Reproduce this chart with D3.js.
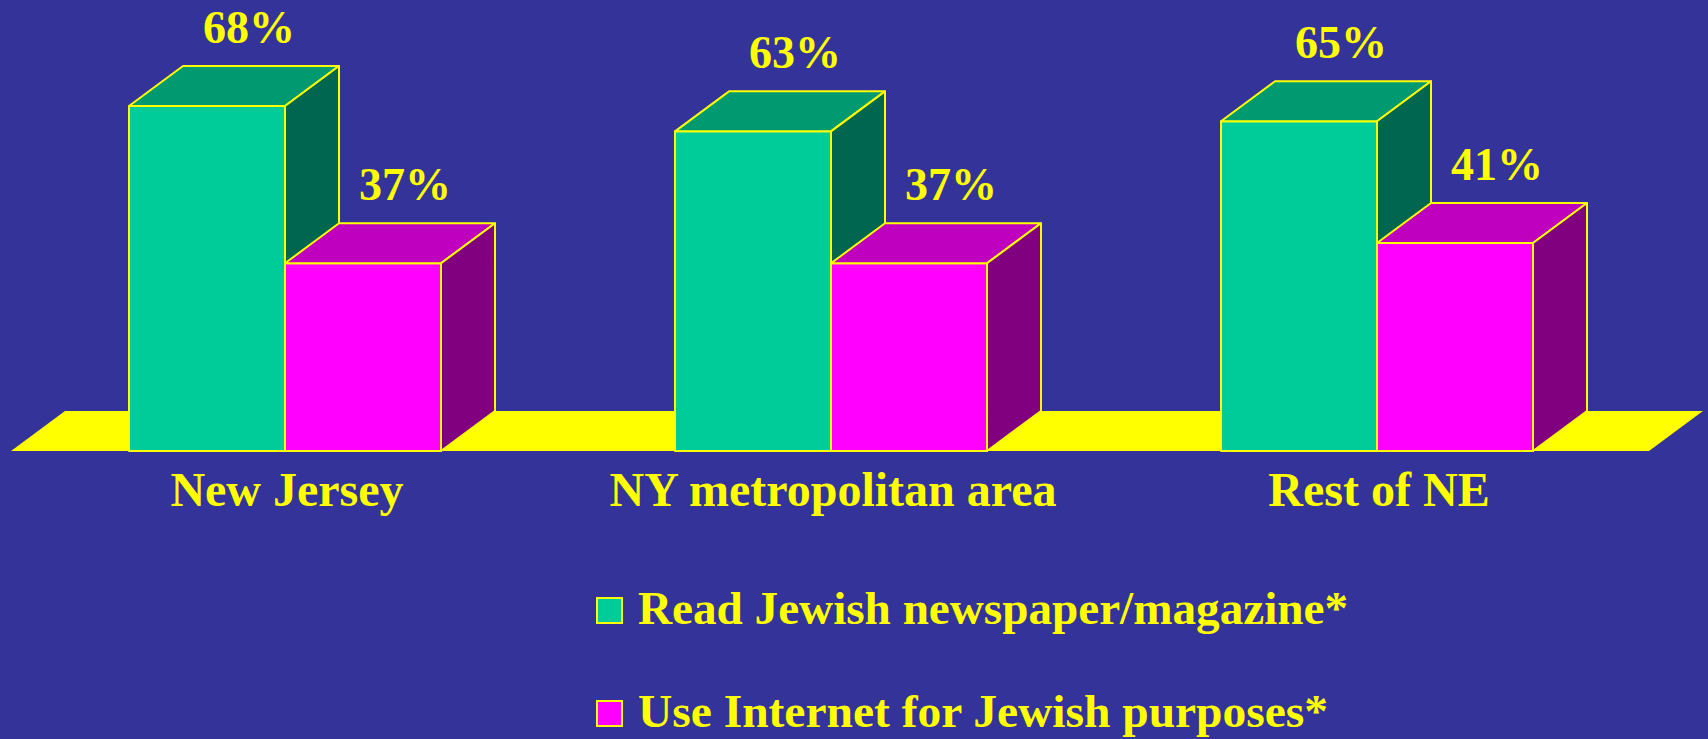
<!DOCTYPE html>
<html>
<head>
<meta charset="utf-8">
<script src="https://cdn.jsdelivr.net/npm/d3@7"></script>
<style>
  body { margin: 0; background: #333399; }
  svg { display: block; }
</style>
</head>
<body>
<div id="chart"></div>
<script>
var categories = ["New Jersey", "NY metropolitan area", "Rest of NE"];
var series = ["Read Jewish newspaper/magazine*", "Use Internet for Jewish purposes*"];
var newspaper = [68, 63, 65];
var internet = [37, 37, 41];

var w = 1708,
    h = 739,
    base = 451,
    depthX = 54,
    depthY = 40;

var faces = [
    { front: "#00cc99", top: "#009970", side: "#006650" },
    { front: "#ff00ff", top: "#bf00bf", side: "#800080" }
];

var svg = d3.select("#chart")
    .append("svg")
    .attr("width", w)
    .attr("height", h)
    .style("background", "#333399");

// group positions
var x0 = d3.scaleBand()
    .domain(categories)
    .range([129, 1533])
    .paddingInner(0.4286)
    .paddingOuter(0);

var x1 = d3.scaleBand()
    .domain(series)
    .range([0, x0.bandwidth()]);

var y = d3.scaleLinear()
    .domain([0, 100])
    .range([base, base - 507.4]);

// the yellow floor
var fl = x0.range()[0] - 118,
    fr = x0.range()[1] + 116;
svg.append("path")
    .attr("d", "M" + fl + "," + base +
        "L" + (fl + depthX) + "," + (base - depthY) +
        "L" + (fr + depthX) + "," + (base - depthY) +
        "L" + fr + "," + base + "Z")
    .style("fill", "#ffff00");

var rows = [];
categories.forEach(function (c, i) {
    rows.push({ cat: c, s: 0, v: newspaper[i] });
    rows.push({ cat: c, s: 1, v: internet[i] });
});

var bw = x1.bandwidth();

var bars = svg.selectAll("g.bar")
    .data(rows)
    .enter()
    .append("g")
    .attr("class", "bar");

bars.each(function (d) {
    var g = d3.select(this);
    var xl = x0(d.cat) + x1(series[d.s]),
        xr = xl + bw,
        yt = y(d.v);

    // front
    g.append("rect")
        .attr("x", xl)
        .attr("y", yt)
        .attr("width", bw)
        .attr("height", base - yt)
        .style("fill", faces[d.s].front);

    // top
    g.append("path")
        .attr("d", "M" + xl + "," + yt + "L" + (xl + depthX) + "," + (yt - depthY) +
            "L" + (xr + depthX) + "," + (yt - depthY) + "L" + xr + "," + yt + "Z")
        .style("fill", faces[d.s].top);

    // side
    g.append("path")
        .attr("d", "M" + xr + "," + yt + "L" + (xr + depthX) + "," + (yt - depthY) +
            "L" + (xr + depthX) + "," + (base - depthY) + "L" + xr + "," + base + "Z")
        .style("fill", faces[d.s].side);

    g.selectAll("rect, path")
        .style("stroke", "#ffff00")
        .style("stroke-width", 2)
        .style("stroke-linejoin", "round");

    // value label
    g.append("text")
        .attr("x", xl + bw / 2 + 42)
        .attr("y", yt - depthY - 23)
        .attr("text-anchor", "middle")
        .style("font-family", "'Liberation Serif', 'Times New Roman', serif")
        .style("font-weight", "bold")
        .style("font-size", "46px")
        .style("fill", "#ffff00")
        .text(d.v + "%");
});

// category labels
svg.selectAll("text.cat")
    .data(categories)
    .enter()
    .append("text")
    .attr("class", "cat")
    .attr("x", function (d) { return x0(d) + x0.bandwidth() / 2 + 2; })
    .attr("y", 506)
    .attr("text-anchor", "middle")
    .style("font-family", "'Liberation Serif', 'Times New Roman', serif")
    .style("font-weight", "bold")
    .style("font-size", "48px")
    .style("fill", "#ffff00")
    .text(function (d) { return d; });

// legend
var legendW = [710, 690];
var legend = svg.selectAll("g.legend")
    .data(series)
    .enter()
    .append("g")
    .attr("class", "legend")
    .attr("transform", function (d, i) { return "translate(597," + (598 + i * 103) + ")"; });

legend.append("rect")
    .attr("width", 25)
    .attr("height", 25)
    .style("fill", function (d, i) { return faces[i].front; })
    .style("stroke", "#ffff00")
    .style("stroke-width", 2);

legend.append("text")
    .attr("x", 41)
    .attr("y", 26)
    .attr("textLength", function (d, i) { return legendW[i]; })
    .attr("lengthAdjust", "spacingAndGlyphs")
    .style("font-family", "'Liberation Serif', 'Times New Roman', serif")
    .style("font-weight", "bold")
    .style("font-size", "46px")
    .style("fill", "#ffff00")
    .text(function (d) { return d; });
</script>
</body>
</html>
